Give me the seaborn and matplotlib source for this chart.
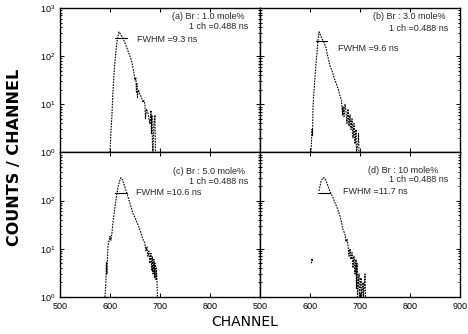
import matplotlib
matplotlib.use("Agg")
import matplotlib.pyplot as plt
import numpy as np
import pandas as pd
import seaborn as sns

# counts (channel, counts); 1 = floor of log axis
a_ch = [600, 602, 604, 606, 608, 610, 612, 614, 616, 618, 620, 624, 628, 632, 636, 640, 644, 648,
        650, 652, 653, 654, 655, 657, 660, 663, 666, 668, 670, 671, 673, 676, 678, 680, 682, 683,
        684, 685, 686, 688, 690, 691, 692]
a_counts = [1, 2.5, 6, 18, 40, 75, 130, 195, 260, 320, 300, 260, 210, 170, 130, 100, 74, 45,
            32, 36, 18, 27, 14, 20, 16, 14, 11, 12, 10, 5, 8, 6.5, 5, 4, 7.5, 2.5,
            6, 1.5, 1, 4, 6, 1, 1]

b_ch = [602, 604, 605, 606, 608, 610, 612, 614, 616, 618, 620, 624, 628, 632, 636, 640, 644, 648,
        652, 654, 657, 660, 663, 665, 666, 668, 670, 672, 674, 676, 678, 680, 682, 684, 686, 688,
        690, 692, 693, 696, 697, 698]
b_counts = [1, 3, 2.2, 9, 18, 38, 70, 120, 220, 320, 290, 230, 195, 150, 95, 63, 50, 36,
            28, 24, 20, 15, 12, 6, 9, 5.6, 10, 7, 4, 8, 3.5, 6, 3, 5, 2, 4,
            1.5, 3, 1, 1.6, 2.5, 1]

c_ch = [590, 592, 593, 594, 596, 598, 600, 602, 604, 606, 608, 610, 613, 616, 619, 622, 625, 628,
        632, 636, 640, 643, 646, 650, 654, 657, 660, 664, 667, 670, 672, 674, 676, 678, 680, 682,
        684, 685, 686, 688, 689, 690, 692, 693, 694, 695]
c_counts = [1, 2.1, 5.2, 3, 11, 14, 18, 15, 21, 35, 50, 72, 120, 186, 250, 300, 270, 220,
            165, 120, 88, 70, 54, 45, 35, 30, 25, 18, 15, 13, 9, 11, 7, 9, 5, 8,
            3.5, 7, 3, 6, 2.5, 5, 2.3, 4, 2.2, 1]

d_ch = [603, 604, 605, 618, 622, 626, 630, 634, 638, 642, 646, 650, 654, 658, 662, 666, 670, 672,
        674, 676, 678, 680, 682, 684, 686, 688, 690, 692, 693, 694, 695, 698, 699, 702, 703, 706,
        707, 710, 711]
d_counts = [5, 6.3, 5.5, 160, 250, 300, 290, 230, 175, 140, 115, 90, 72, 55, 40, 25, 20, 14,
            16, 11.5, 7, 10, 6, 8.3, 4, 7, 3, 6, 1.5, 5, 1, 3, 1, 2.5, 1, 2,
            1, 3, 1]
d_seg = [0, 0, 0] + [1] * 36

labels = ["(a) Br : 1.0 mole%", "(b) Br : 3.0 mole%", "(c) Br : 5.0 mole%", "(d) Br : 10 mole%"]
fwhm = ["FWHM =9.3 ns", "FWHM =9.6 ns", "FWHM =10.6 ns", "FWHM =11.7 ns"]
# half-maximum bars as drawn in the figure: (start ch, end ch, level)
fwhm_bar = [(610, 634, 235), (612, 634, 205), (610, 634, 145), (617, 640, 145)]

sns.set_style("ticks")
plt.rcParams["font.family"] = ["Liberation Sans", "DejaVu Sans"]
plt.rcParams["mathtext.fontset"] = "custom"
plt.rcParams["mathtext.rm"] = "Liberation Sans"

fig, axes = plt.subplots(2, 2, figsize=(4.68, 3.34), dpi=100)
fig.subplots_adjust(left=0.128, right=0.983, top=0.976, bottom=0.111, wspace=0, hspace=0)

panels = [
    pd.DataFrame({"ch": a_ch, "counts": a_counts, "seg": 0}),
    pd.DataFrame({"ch": b_ch, "counts": b_counts, "seg": 0}),
    pd.DataFrame({"ch": c_ch, "counts": c_counts, "seg": 0}),
    pd.DataFrame({"ch": d_ch, "counts": d_counts, "seg": d_seg}),
]

# text positions in axes coords
lab_pos = [(0.925, 0.94), (0.93, 0.94), (0.925, 0.87), (0.89, 0.875)]
ch_pos = [(0.94, 0.87), (0.94, 0.86), (0.94, 0.80), (0.94, 0.81)]
fw_pos = [(0.385, 0.78), (0.39, 0.72), (0.38, 0.72), (0.415, 0.73)]

for i, ax in enumerate(axes.flat):
    df = panels[i]
    sns.lineplot(data=df, x="ch", y="counts", units="seg", estimator=None, sort=False,
                 ax=ax, color="black", lw=0.8, linestyle=(0, (1.5, 1)))
    x0, x1, lev = fwhm_bar[i]
    sns.lineplot(x=[x0, x1], y=[lev, lev], ax=ax, color="black", lw=0.8)
    ax.set_yscale("log")
    ax.set_xlim(500, 900)
    ax.set_ylim(1, 1000)
    ax.set_xlabel("")
    ax.set_ylabel("")
    ax.set_xticks([500, 600, 700, 800, 900])
    ax.tick_params(axis="both", which="both", direction="in", top=True, right=True,
                   labelsize=6.5, width=0.7, colors="black")
    ax.tick_params(which="major", length=3)
    ax.tick_params(which="minor", length=1.5)
    for s in ax.spines.values():
        s.set_linewidth(1.0)
        s.set_color("black")

    ax.text(*lab_pos[i], labels[i], transform=ax.transAxes, ha="right", va="center", fontsize=6.5)
    ax.text(*ch_pos[i], "1 ch =0.488 ns", transform=ax.transAxes, ha="right", va="center", fontsize=6.5)
    ax.text(*fw_pos[i], fwhm[i], transform=ax.transAxes, ha="left", va="center", fontsize=6.5)

for ax in axes[0]:
    ax.tick_params(labelbottom=False)
for ax in axes[:, 1]:
    ax.tick_params(labelleft=False)
axes[1, 0].set_yticks([1, 10, 100, 1000])
axes[1, 0].set_yticklabels(["$10^0$", "$10^1$", "$10^2$", ""])
axes[1, 0].set_ylim(1, 1000)
axes[1, 0].set_xticklabels(["500", "600", "700", "800", ""])

fig.text(0.032, 0.53, "COUNTS / CHANNEL", rotation=90, ha="center", va="center",
         fontsize=11.5, fontweight="bold", family="DejaVu Sans", color="black")
fig.text(0.523, 0.035, "CHANNEL", ha="center", va="center", fontsize=10,
         family="DejaVu Sans", color="black")

fig.savefig("out.png", dpi=100)
